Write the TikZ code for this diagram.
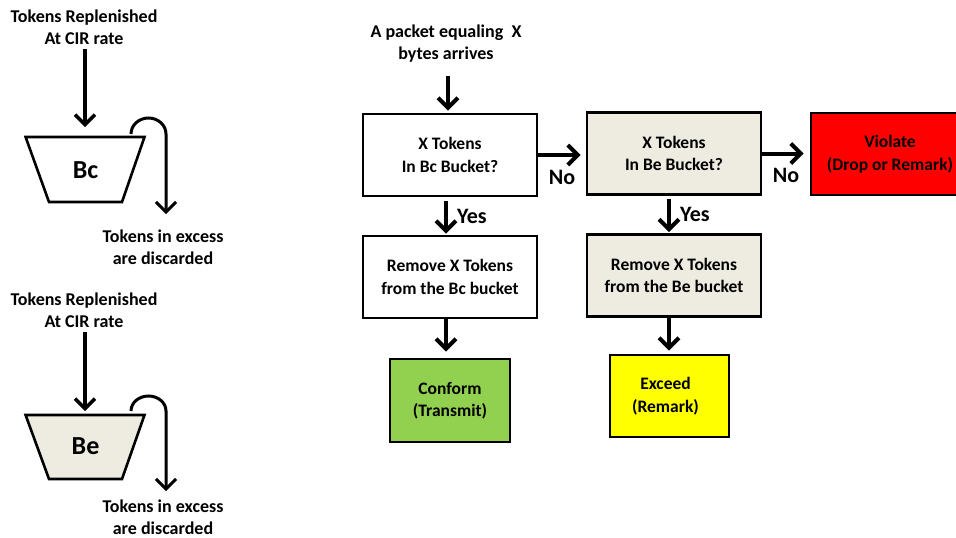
\documentclass[tikz,border=0pt]{standalone}
\usepackage{fontspec}
\setmainfont{Carlito}
\usetikzlibrary{arrows.meta}
\definecolor{beige}{HTML}{EEECE1}
\definecolor{okgreen}{HTML}{92D050}
\definecolor{warnyellow}{HTML}{FFFF00}
\definecolor{badred}{HTML}{FF0000}
\begin{document}
\begin{tikzpicture}[x=1pt,y=-1pt,
  every node/.style={font=\bfseries\fontsize{18}{22}\selectfont, align=center},
  txt/.style={inner sep=0pt},
  boxtxt/.style={font=\bfseries\fontsize{17.5}{22.5}\selectfont},
  box/.style={draw, line width=2.8pt, minimum width=174pt, minimum height=82pt, inner sep=0pt, boxtxt},
  outcome/.style={draw, line width=2.8pt, minimum width=119pt, minimum height=82pt, inner sep=0pt, boxtxt},
  arr/.style={line width=4pt, -{Straight Barb[length=10pt,width=20pt]}},
  thinarr/.style={line width=3.4pt, -{Straight Barb[length=10pt,width=20pt]}},
  lbl/.style={font=\bfseries\fontsize{22}{26}\selectfont, inner sep=0pt},
  bucketlbl/.style={font=\bfseries\fontsize{26}{30}\selectfont, inner sep=0pt},
  bucket/.style={draw, line width=2.6pt, line join=miter},
]
\useasboundingbox (0,0) rectangle (956,538);
\clip (0,0) rectangle (956,538);

% ---- committed burst bucket (Bc) ----
\node[txt] (rep1) at (84,27) {Tokens Replenished\\At CIR rate};
\draw[bucket] (25.6,137) -- (144.5,137) -- (122,202) -- (49,202) -- cycle;
\coordinate (bctop) at (85,137);
\node[bucketlbl] (bc) at (85.5,170) {Bc};
\draw[thinarr, shorten <=4pt, shorten >=10pt] (rep1.south -| bctop) -- (bctop);
\node[txt] (exc1) at (163,247) {Tokens in excess\\are discarded};
\draw[thinarr, line width=3pt] (131,134) arc[start angle=180, end angle=0, x radius=17.5pt, y radius=16pt] -- (166,214);

% ---- excess burst bucket (Be) ----
\node[txt] (rep2) at (84,310) {Tokens Replenished\\At CIR rate};
\draw[bucket, fill=beige] (25.6,415) -- (144.5,415) -- (122,479) -- (49,479) -- cycle;
\coordinate (betop) at (85,415);
\node[bucketlbl] (be) at (85.5,446) {Be};
\draw[thinarr, shorten <=4pt, shorten >=4pt] (rep2.south -| betop) -- (betop);
\node[txt] (exc2) at (163,517) {Tokens in excess\\are discarded};
\draw[thinarr, line width=3pt] (131,411) arc[start angle=180, end angle=0, x radius=17.5pt, y radius=15pt] -- (166,491);

% ---- decision flow ----
\node[txt] (pkt) at (446,44) {A packet equaling~ X\\bytes arrives};
\node[box] (b1) at (450,155) {X Tokens\\In Bc Bucket?};
\node[box, fill=beige] (b2) at (674,153.5) {X Tokens\\In Be Bucket?};
\node[draw, line width=2.8pt, minimum width=158pt, minimum height=82pt, inner sep=0pt, boxtxt, fill=badred] (viol) at (890,154) {Violate\\(Drop or Remark)};
\node[box] (b3) at (450,277) {Remove X Tokens\\from the Bc bucket};
\node[box, fill=beige] (b4) at (674,275.5) {Remove X Tokens\\from the Be bucket};
\node[outcome, minimum width=120pt, minimum height=83pt, fill=okgreen] (conf) at (450,400.5) {Conform\\(Transmit)};
\node[outcome, fill=warnyellow] (exc) at (669.5,396) {Exceed\hspace*{8pt}\\(Remark)\hspace*{8pt}};

\draw[arr, shorten <=13pt, shorten >=2pt] ([xshift=2pt]pkt.south) -- ([xshift=-2pt]b1.north);
\draw[arr, shorten >=5pt] (b1.east) -- (b1.east -| b2.west) node[lbl, midway, yshift=-22pt] {No};
\draw[arr, shorten >=6pt] (b2.east) -- (b2.east -| viol.west) node[lbl, midway, yshift=-22pt] {No};
\draw[arr, shorten <=4pt, shorten >=1pt] ([xshift=-4pt]b1.south) -- ([xshift=-4pt]b1.south |- b3.north) node[lbl, midway, xshift=26pt] {Yes};
\draw[arr, shorten <=3pt, shorten >=1pt] ([xshift=-5pt]b2.south) -- ([xshift=-5pt]b2.south |- b4.north) node[lbl, midway, xshift=26pt] {Yes};
\draw[arr, shorten >=6pt] ([xshift=-4pt]b3.south) -- ([xshift=-4pt]b3.south |- conf.north);
\draw[arr, shorten >=3pt] ([xshift=-5pt]b4.south) -- ([xshift=-5pt]b4.south |- exc.north);
\end{tikzpicture}
\end{document}
